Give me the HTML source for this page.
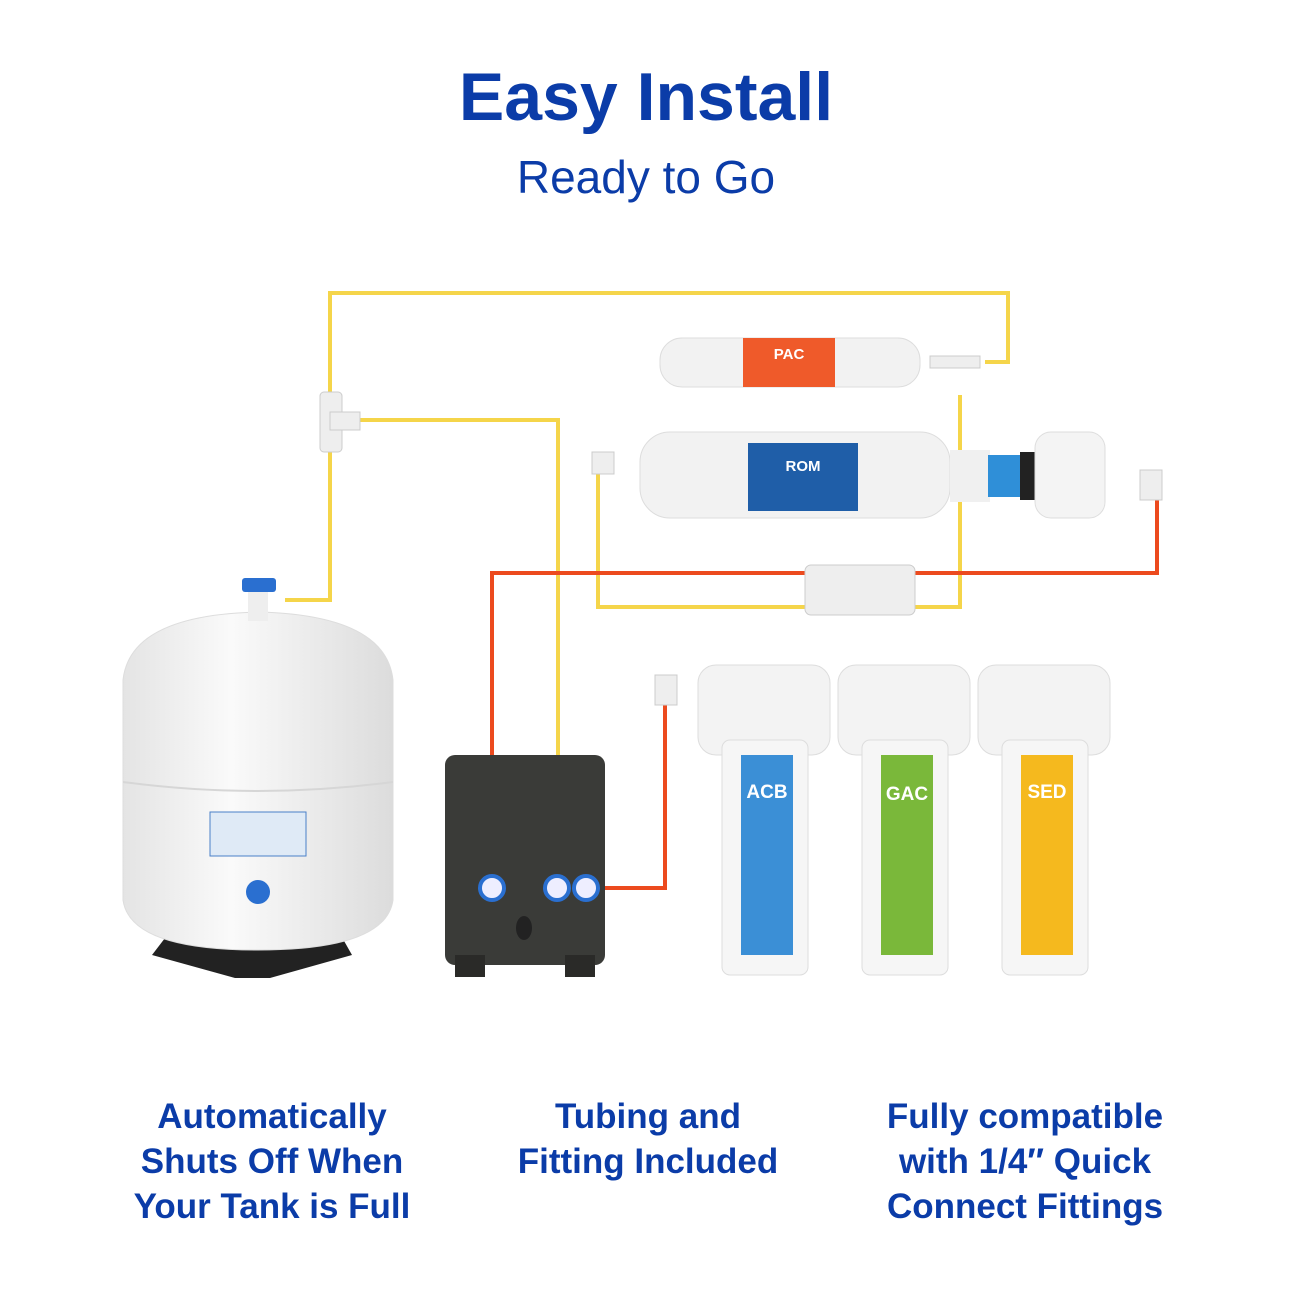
<!DOCTYPE html>
<html><head><meta charset="utf-8"><style>
body{margin:0;background:#fff;}
.w{position:relative;width:1292px;height:1292px;overflow:hidden;font-family:"Liberation Sans",sans-serif;}
.t{position:absolute;width:100%;text-align:center;color:#0b3ca8;}
.b{position:absolute;text-align:center;color:#0b3ca8;font-weight:bold;font-size:35px;line-height:45px;width:420px;}
</style></head><body><div class="w">
<div class="t" style="top:58px;font-size:68px;font-weight:bold;">Easy Install</div>
<div class="t" style="top:150px;font-size:46px;">Ready to Go</div>
<svg width="1292" height="1292" style="position:absolute;left:0;top:0">
<defs><linearGradient id="tg" x1="0" x2="1"><stop offset="0" stop-color="#e4e4e4"/><stop offset="0.4" stop-color="#fafafa"/><stop offset="1" stop-color="#dcdcdc"/></linearGradient></defs>
<g fill="none" stroke-width="4">
<polyline stroke="#f5d54a" points="285,600 330,600 330,293 1008,293 1008,362 985,362"/>
<polyline stroke="#f5d54a" points="345,420 558,420 558,880"/>
<polyline stroke="#f5d54a" points="960,395 960,607 915,607"/>
<polyline stroke="#f5d54a" points="805,607 598,607 598,470"/>
<polyline stroke="#ec4a1e" points="492,880 492,573 805,573"/>
<polyline stroke="#ec4a1e" points="915,573 1157,573 1157,500"/>
<polyline stroke="#ec4a1e" points="605,888 665,888 665,700"/>
</g>
<rect x="320" y="392" width="22" height="60" rx="4" fill="#eee" stroke="#ccc"/>
<rect x="330" y="412" width="30" height="18" fill="#eee" stroke="#ccc"/>
<!-- tank -->
<polygon points="152,955 175,925 335,925 352,955 270,978 235,978" fill="#222"/>
<path d="M123,680 Q130,615 258,612 Q386,615 393,680 L393,900 Q386,950 258,950 Q130,950 123,900 Z" fill="url(#tg)" stroke="#ddd"/>
<path d="M123,782 Q258,800 393,782" fill="none" stroke="#d6d6d6" stroke-width="2"/>
<rect x="248" y="585" width="20" height="36" fill="#eee"/>
<rect x="242" y="578" width="34" height="14" rx="3" fill="#2a6fd0"/>
<rect x="210" y="812" width="96" height="44" fill="#dfeaf6" stroke="#4a80c8"/>
<circle cx="258" cy="892" r="12" fill="#2a6fd0"/>
<!-- pump -->
<rect x="445" y="755" width="160" height="210" rx="10" fill="#3a3b38"/>
<rect x="455" y="955" width="30" height="22" fill="#2a2a28"/><rect x="565" y="955" width="30" height="22" fill="#2a2a28"/>
<circle cx="492" cy="888" r="12" fill="#eef" stroke="#2a6fd0" stroke-width="4"/>
<circle cx="557" cy="888" r="12" fill="#eef" stroke="#2a6fd0" stroke-width="4"/>
<circle cx="586" cy="888" r="12" fill="#eef" stroke="#2a6fd0" stroke-width="4"/>
<ellipse cx="524" cy="928" rx="8" ry="12" fill="#222"/>
<!-- PAC -->
<rect x="660" y="338" width="260" height="49" rx="22" fill="#f2f2f2" stroke="#ddd"/>
<rect x="743" y="338" width="92" height="49" fill="#ef5a2a"/>
<text x="789" y="359" fill="#fff" font-size="15" font-weight="bold" text-anchor="middle" font-family="Liberation Sans">PAC</text>
<rect x="930" y="356" width="50" height="12" fill="#eee" stroke="#ccc"/>
<!-- ROM -->
<rect x="640" y="432" width="310" height="86" rx="30" fill="#f2f2f2" stroke="#ddd"/>
<rect x="950" y="450" width="40" height="52" fill="#f0f0f0"/>
<rect x="988" y="455" width="40" height="42" fill="#2f8fd8"/>
<rect x="1020" y="452" width="20" height="48" fill="#222"/>
<rect x="1035" y="432" width="70" height="86" rx="16" fill="#f4f4f4" stroke="#ddd"/>
<rect x="748" y="443" width="110" height="68" fill="#1f5ea8"/>
<text x="803" y="471" fill="#fff" font-size="15" font-weight="bold" text-anchor="middle" font-family="Liberation Sans">ROM</text>
<rect x="592" y="452" width="22" height="22" fill="#eee" stroke="#ccc"/>
<rect x="1140" y="470" width="22" height="30" fill="#eee" stroke="#ccc"/>
<rect x="805" y="565" width="110" height="50" rx="6" fill="#eee" stroke="#ccc"/>
<rect x="655" y="675" width="22" height="30" fill="#eee" stroke="#ccc"/>
<g stroke="#ddd">
<rect x="698" y="665" width="132" height="90" rx="18" fill="#f3f3f3"/>
<rect x="722" y="740" width="86" height="235" rx="8" fill="#f6f6f6"/>
<rect x="838" y="665" width="132" height="90" rx="18" fill="#f3f3f3"/>
<rect x="862" y="740" width="86" height="235" rx="8" fill="#f6f6f6"/>
<rect x="978" y="665" width="132" height="90" rx="18" fill="#f3f3f3"/>
<rect x="1002" y="740" width="86" height="235" rx="8" fill="#f6f6f6"/>
</g>
<rect x="741" y="755" width="52" height="200" fill="#3b8fd6"/>
<rect x="881" y="755" width="52" height="200" fill="#7ab83a"/>
<rect x="1021" y="755" width="52" height="200" fill="#f5b91e"/>
<g fill="#fff" font-size="19" font-weight="bold" text-anchor="middle" font-family="Liberation Sans">
<text x="767" y="798">ACB</text><text x="907" y="800">GAC</text><text x="1047" y="798">SED</text></g>
</svg>
<div class="b" style="left:62px;top:1094px">Automatically<br>Shuts Off When<br>Your Tank is Full</div>
<div class="b" style="left:438px;top:1094px">Tubing and<br>Fitting Included</div>
<div class="b" style="left:815px;top:1094px">Fully compatible<br>with 1/4″ Quick<br>Connect Fittings</div>
</div></body></html>
